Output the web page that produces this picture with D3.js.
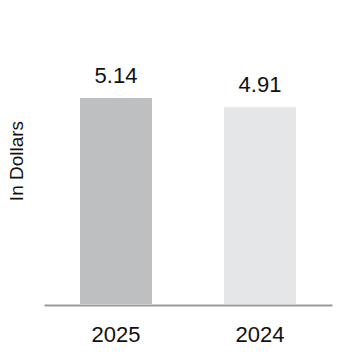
<!DOCTYPE html>
<html>
  <head>
    <meta charset="utf-8">
    <title>In Dollars</title>
    <script src="https://d3js.org/d3.v7.min.js"></script>
    <style>
      body { margin: 0; background: #fff; }
      text { font-family: "Liberation Sans", Arial, sans-serif; fill: #111; }
    </style>
  </head>
  <body>
    <script>
        var years = ["2025", "2024"]
        var values = [5.14, 4.91]
        var labels = ["5.14", "4.91"]
        var colors = ["#bebfc0", "#e5e6e7"]

        var width = 362
        var height = 364

        var svg = d3.select("body").append("svg")
            .attr("width", width)
            .attr("height", height);

        var x = d3.scaleBand()
            .domain(years)
            .range([44, 332])
            .paddingInner(0.5)
            .paddingOuter(0.25);

        var y = d3.scaleLinear()
            .domain([0, 5.14])
            .range([304, 98]);

        // bars
        svg.append("g")
            .selectAll("rect")
            .data(years)
            .enter()
            .append("rect")
                .attr("x", function(d) { return x(d); })
                .attr("y", function(d, i) { return y(values[i]); })
                .attr("width", x.bandwidth())
                .attr("height", function(d, i) { return y(0) - y(values[i]); })
                .style("fill", function(d, i) { return colors[i]; });

        // value labels
        svg.append("g")
            .selectAll("text")
            .data(years)
            .enter()
            .append("text")
                .attr("x", function(d) { return x(d) + x.bandwidth() / 2; })
                .attr("y", function(d, i) { return y(values[i]) - 15; })
                .attr("text-anchor", "middle")
                .attr("font-size", "22px")
                .text(function(d, i) { return labels[i]; });

        // x axis
        var xAxis = svg.append("g")
            .attr("transform", "translate(0," + 305 + ")")
            .call(d3.axisBottom(x).tickSize(0).tickPadding(21));
        xAxis.select(".domain")
            .attr("stroke", "#999")
            .attr("stroke-width", 2);
        xAxis.selectAll("text")
            .attr("font-size", "22px")
            .attr("font-family", "Liberation Sans, Arial, sans-serif")
            .style("fill", "#111");

        // y axis title
        svg.append("text")
            .attr("text-anchor", "middle")
            .attr("transform", "translate(23,161) rotate(-90)")
            .attr("font-size", "19px")
            .text("In Dollars");
    </script>
  </body>
</html>
